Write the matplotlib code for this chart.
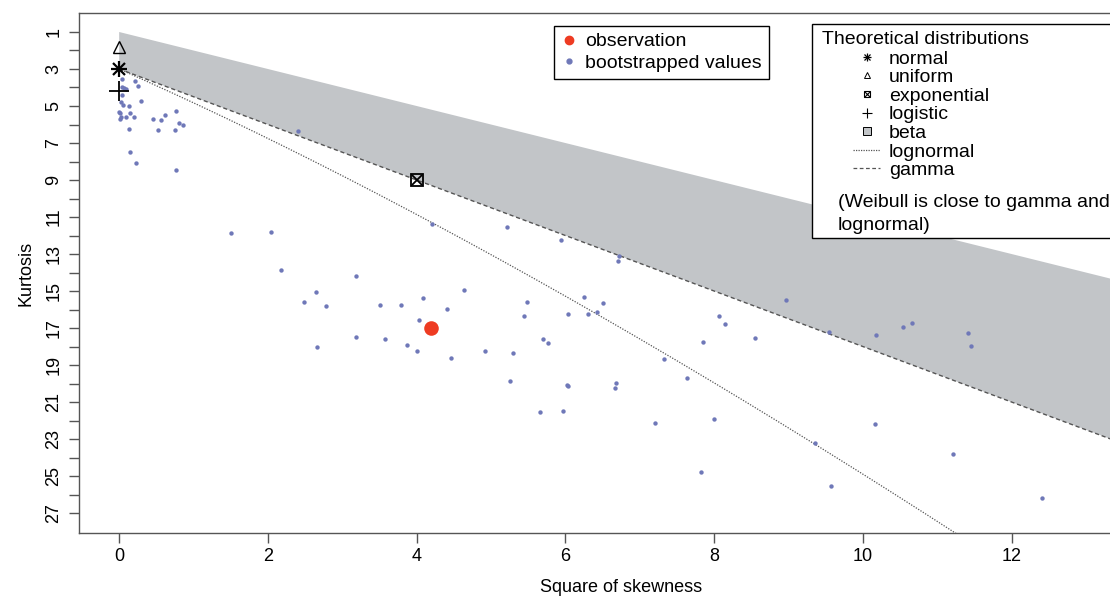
"""Cullen and Frey graph: squared skewness vs kurtosis with bootstrapped values."""

import matplotlib.pyplot as plt
import numpy as np
from matplotlib.lines import Line2D
from matplotlib.patches import Rectangle

plt.rcParams["font.family"] = ["Liberation Sans", "DejaVu Sans"]

# bootstrapped (square of skewness, kurtosis) pairs
BOOT_SQ_SKEW = [
    0.04, 0.215, 0.25, 0.036, 0.07, 0.09, 0.044, 0.027, 0.05, 0.13,
    0.30, 0.0, 0.005, 0.027, 0.013, 0.085, 0.14, 0.20, 0.13, 0.46,
    0.56, 0.61, 0.52, 0.76, 0.80, 0.86, 0.75, 0.15, 0.22, 0.77,
    2.41, 4.21, 1.50, 2.04, 2.18, 3.19, 2.65, 2.48, 2.78, 3.51,
    3.79, 4.08, 4.64, 4.41, 4.03, 3.18, 3.58, 3.87, 4.01, 2.66,
    4.46, 5.26, 6.02, 6.03, 6.68, 6.67, 7.64, 5.66, 5.97, 7.20,
    8.00, 7.83, 5.48, 5.44, 6.03, 6.31, 6.43, 6.50, 5.70, 5.76,
    4.92, 5.29, 7.32, 8.06, 8.15, 7.85, 8.55, 9.55, 8.97, 9.36,
    9.57, 5.22, 5.94, 6.72, 6.71, 6.25, 10.18, 10.54, 10.66, 11.42,
    11.45, 10.17, 11.21, 12.41,
]
BOOT_KURT = [
    3.56, 3.65, 3.94, 3.96, 4.04, 4.10, 4.41, 4.77, 4.95, 5.00,
    4.73, 5.31, 5.39, 5.58, 5.72, 5.58, 5.36, 5.61, 6.26, 5.69,
    5.77, 5.49, 6.31, 5.25, 5.92, 6.03, 6.31, 7.49, 8.08, 8.46,
    6.35, 11.39, 11.85, 11.81, 13.85, 14.19, 15.05, 15.58, 15.79, 15.76,
    15.76, 15.38, 14.96, 15.99, 16.55, 17.47, 17.58, 17.94, 18.22, 18.05,
    18.64, 19.85, 20.08, 20.12, 19.99, 20.23, 19.70, 21.52, 21.47, 22.12,
    21.94, 24.77, 15.58, 16.37, 16.23, 16.24, 16.14, 15.63, 17.59, 17.79,
    18.22, 18.35, 18.69, 16.37, 16.78, 17.77, 17.52, 17.20, 15.48, 23.20,
    25.52, 11.52, 12.23, 13.11, 13.38, 15.34, 17.40, 16.93, 16.75, 17.29,
    17.99, 22.19, 23.79, 26.21,
]
OBS_SQ_SKEW = 4.2
OBS_KURT = 17.0

THEO_NAMES = ["normal", "uniform", "exponential", "logistic"]
THEO_SQ_SKEW = [0.0, 0.0, 4.0, 0.0]
THEO_KURT = [3.0, 1.8, 9.0, 4.2]

X_TICKS = [0, 2, 4, 6, 8, 10, 12]
Y_TICKS = list(range(1, 28))

BOOT_COLOR = "#6f78b8"
OBS_COLOR = "#ee3b22"
BETA_FILL = "#c2c5c8"
LINE_GREY = "#555555"
LEG_FS = 14

fig = plt.figure(figsize=(11.10, 5.99), dpi=100)
ax = fig.add_axes([0.0712, 0.1102, 0.9774, 0.8681])

# beta region: between uniform limit (k = s2 + 1) and gamma line (k = 1.5 s2 + 3)
edge = 16.0
ax.fill([0, edge, edge, 0], [1, edge + 1, 1.5 * edge + 3, 3],
        color=BETA_FILL, lw=0, zorder=1)

# gamma line
gx = np.array([0.0, edge])
ax.plot(gx, 1.5 * gx + 3, ls=(0, (3, 2)), color=LINE_GREY, lw=1.0, zorder=2)

# lognormal curve from its shape parameter
sig = np.linspace(0.0, 0.9, 400)
es2 = np.exp(sig ** 2)
ln_sk2 = (es2 + 2) ** 2 * (es2 - 1)
ln_kurt = es2 ** 4 + 2 * es2 ** 3 + 3 * es2 ** 2 - 3
ax.plot(ln_sk2, ln_kurt, ls=(0, (1, 1.2)), color=LINE_GREY, lw=0.9, zorder=2)

ax.scatter(BOOT_SQ_SKEW, BOOT_KURT, s=10, color=BOOT_COLOR, lw=0, zorder=3)
ax.scatter([OBS_SQ_SKEW], [OBS_KURT], s=110, color=OBS_COLOR, lw=0, zorder=4)

# theoretical points
mk = dict(color="black", ls="none", zorder=5)
ax.plot(THEO_SQ_SKEW[0], THEO_KURT[0], marker="+", ms=11, mew=1.6, **mk)
ax.plot(THEO_SQ_SKEW[0], THEO_KURT[0], marker="x", ms=8, mew=1.6, **mk)
ax.plot(THEO_SQ_SKEW[1], THEO_KURT[1], marker="^", ms=9, mfc="none", mew=1.0, **mk)
ax.plot(THEO_SQ_SKEW[2], THEO_KURT[2], marker="s", ms=8, mfc="none", mew=1.3, **mk)
ax.plot(THEO_SQ_SKEW[2], THEO_KURT[2], marker="x", ms=7, mew=1.3, **mk)
ax.plot(THEO_SQ_SKEW[3], THEO_KURT[3], marker="+", ms=14, mew=1.3, **mk)

ax.set_xlim(-0.54, 14.05)
ax.set_ylim(28.08, -0.027)
ax.set_xticks(X_TICKS)
ax.set_xticklabels([str(t) for t in X_TICKS])
ax.set_yticks(Y_TICKS)
ax.set_yticklabels([str(t) if t % 2 else "" for t in Y_TICKS], rotation=90, va="center")
ax.tick_params(direction="out", length=7, width=1, color=LINE_GREY, labelsize=13)
ax.tick_params(axis="y", pad=5)
ax.tick_params(axis="x", pad=4)
for sp in ax.spines.values():
    sp.set_color(LINE_GREY)
    sp.set_linewidth(1.0)

ax.set_xlabel("Square of skewness", fontsize=13, labelpad=10)
ax.set_ylabel("Kurtosis", fontsize=13, labelpad=8)

# legend: observation / bootstrap
obs_handles = [
    Line2D([], [], marker="o", color=OBS_COLOR, ls="none", ms=6),
    Line2D([], [], marker="o", color=BOOT_COLOR, ls="none", ms=3.5),
]
leg1 = ax.legend(obs_handles, ["observation", "bootstrapped values"],
                 loc="upper left", bbox_to_anchor=(554 / 1110, 1 - 26 / 599),
                 bbox_transform=fig.transFigure, fontsize=LEG_FS, frameon=True,
                 fancybox=False, edgecolor="black", framealpha=1,
                 handlelength=0.8, handletextpad=0.45, borderpad=0.35,
                 labelspacing=0.2, borderaxespad=0)
leg1.get_frame().set_linewidth(1.0)
ax.add_artist(leg1)

# legend: theoretical distributions, framed by a box that also holds the note
box = Rectangle((812 / 1110, 1 - 238 / 599), 320 / 1110, 214 / 599,
                transform=fig.transFigure, fc="white", ec="black", lw=1.0,
                zorder=6, clip_on=False)
ax.add_patch(box)

star = (Line2D([], [], marker="+", color="black", ls="none", ms=6, mew=0.9),
        Line2D([], [], marker="x", color="black", ls="none", ms=4.5, mew=0.9))
expo = (Line2D([], [], marker="s", mfc="none", color="black", ls="none", ms=5, mew=0.8),
        Line2D([], [], marker="x", color="black", ls="none", ms=4, mew=0.8))
theo_handles = [
    star,
    Line2D([], [], marker="^", mfc="none", color="black", ls="none", ms=5, mew=0.7),
    expo,
    Line2D([], [], marker="+", color="black", ls="none", ms=7, mew=0.8),
    Line2D([], [], marker="s", mfc=BETA_FILL, mec="black", ls="none", ms=6, mew=0.7),
    Line2D([], [], ls=(0, (1, 1)), color=LINE_GREY, lw=0.9),
    Line2D([], [], ls=(0, (3, 2)), color=LINE_GREY, lw=0.9),
]
theo_labels = THEO_NAMES + ["beta", "lognormal", "gamma"]
leg2 = ax.legend(theo_handles, theo_labels, loc="upper left",
                 bbox_to_anchor=(853 / 1110, 1 - 50 / 599),
                 bbox_transform=fig.transFigure, fontsize=LEG_FS, frameon=False,
                 handlelength=1.4, handletextpad=0.45, borderpad=0,
                 labelspacing=0.05, borderaxespad=0)
leg2.set_zorder(7)

ax.text(822 / 1110, 1 - 40 / 599, "Theoretical distributions", fontsize=LEG_FS,
        va="center", ha="left", transform=fig.transFigure, zorder=8, clip_on=False)
ax.text(838 / 1110, 1 - 214 / 599, "(Weibull is close to gamma and\nlognormal)",
        fontsize=LEG_FS, va="center", ha="left", linespacing=1.45,
        transform=fig.transFigure, zorder=8, clip_on=False)

fig.savefig("out.png", dpi=100)
